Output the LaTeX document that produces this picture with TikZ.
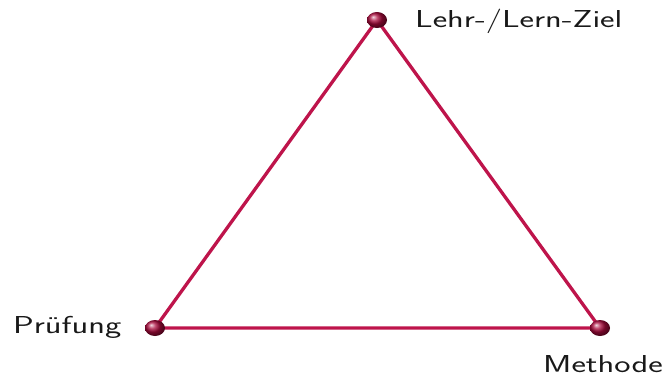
\documentclass[tikz,border=0pt]{standalone}
\usetikzlibrary{shadings,shapes.geometric}
\definecolor{edgec}{RGB}{190,20,75}
\definecolor{ballc}{RGB}{170,10,60}
\tikzset{
  vertex/.style={ellipse,inner sep=0pt,minimum width=20pt,minimum height=16pt,shading=ball,ball color=ballc},
  lbl/.style={inner sep=0pt,font=\sffamily\fontsize{24.5}{28}\selectfont,text=black!90},
  edge/.style={draw=edgec,line width=3.3pt,line join=round}
}
\newcommand{\wide}[1]{\scalebox{1.41}[1]{#1}}
\begin{document}
\begin{tikzpicture}[x=1pt,y=-1pt]
\useasboundingbox (0,0) rectangle (663,376);
\coordinate (t) at (377,20);
\coordinate (l) at (155,328);
\coordinate (r) at (600,328);
\draw[edge] (t) -- (l) -- (r) -- cycle;
\node[vertex] (vt) at (t) {};
\node[vertex] (vl) at (l) {};
\node[vertex] (vr) at (r) {};
\node[lbl,anchor=base west] (lt) at (415,27) {\wide{Lehr-/Lern-Ziel}};
\node[lbl,anchor=base west] (ll) at (13,333) {\wide{Prüfung}};
\node[lbl,anchor=base west] (lr) at (543,372) {\wide{Methode}};
\end{tikzpicture}
\end{document}
